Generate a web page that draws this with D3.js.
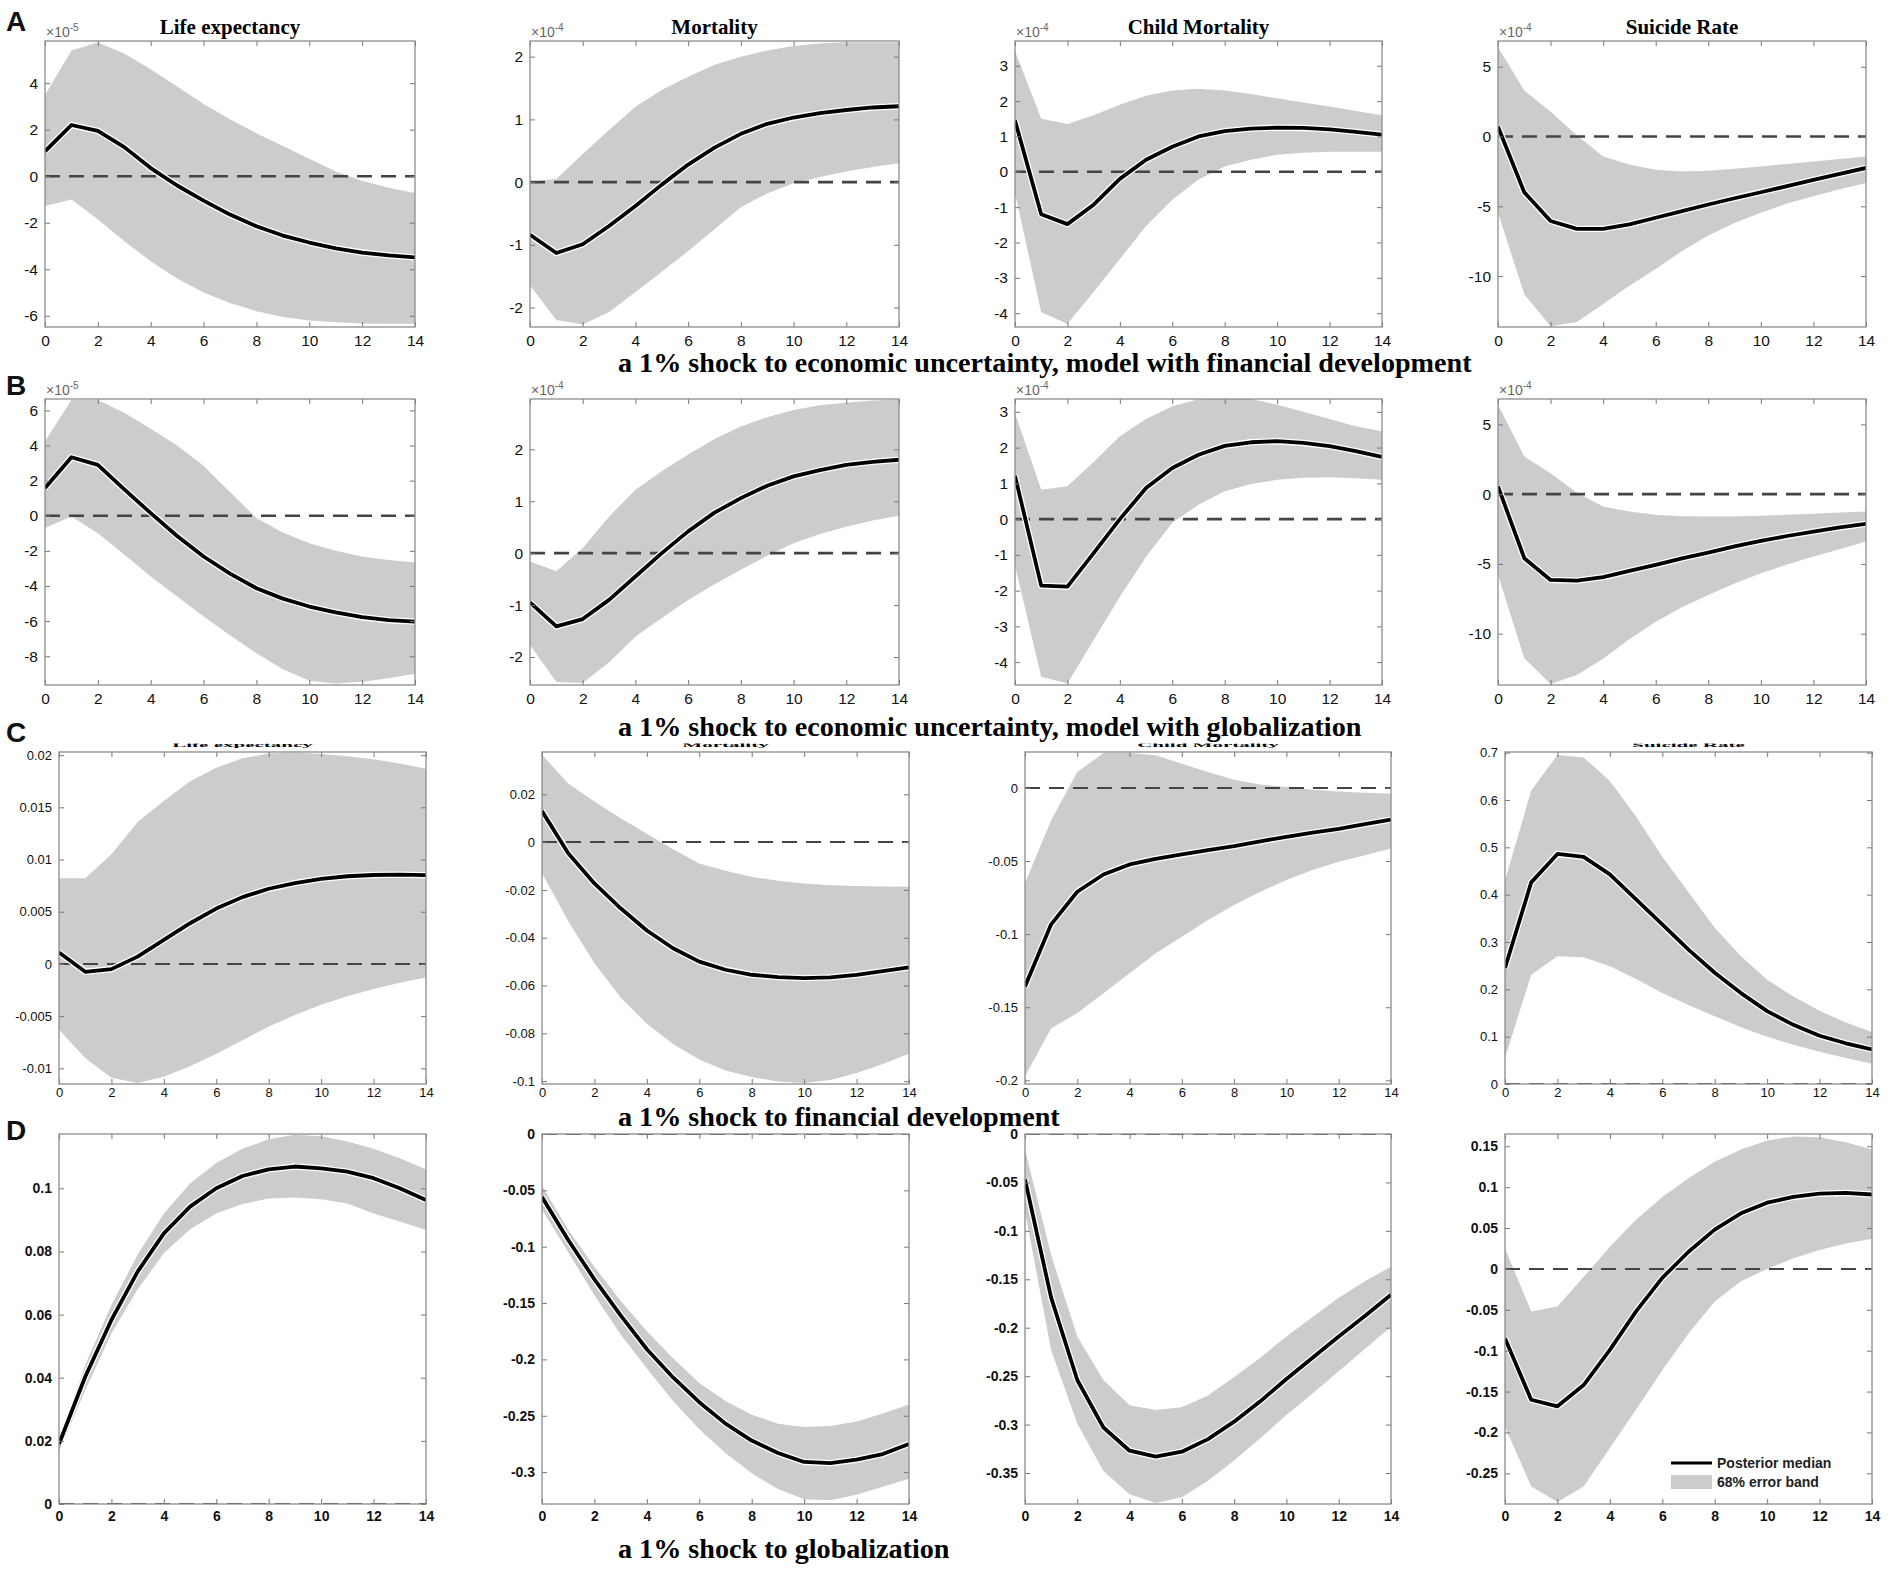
<!DOCTYPE html>
<html>
<head>
<meta charset="utf-8">
<script src="https://cdn.jsdelivr.net/npm/d3@7"></script>
<style>
  body { margin: 0; background: #fff; }
  text { font-family: "Liberation Sans", Arial, sans-serif; }
  .serif { font-family: "Liberation Serif", "Times New Roman", serif; font-weight: bold; }
</style>
</head>
<body>
<script>

// ---- data ----
var horizon = [0,1,2,3,4,5,6,7,8,9,10,11,12,13,14];
var xTicks = [0,2,4,6,8,10,12,14];
var titles = ["Life expectancy", "Mortality", "Child Mortality", "Suicide Rate"];
var rowLetters = ["A", "B", "C", "D"];
var captions = [
  "a 1% shock to economic uncertainty, model with financial development",
  "a 1% shock to economic uncertainty, model with globalization",
  "a 1% shock to financial development",
  "a 1% shock to globalization"
];
var multipliers = [["-5","-4","-4","-4"], ["-5","-4","-4","-4"], null, null];

// row A (units of the x10^ label)
var A_life_med = [1.07, 2.2, 1.95, 1.25, 0.35, -0.4, -1.05, -1.65, -2.15, -2.55, -2.85, -3.1, -3.28, -3.4, -3.49];
var A_life_hi  = [3.49, 5.4, 5.75, 5.27, 4.6, 3.85, 3.1, 2.45, 1.85, 1.3, 0.75, 0.2, -0.2, -0.5, -0.72];
var A_life_lo  = [-1.28, -1.0, -1.85, -2.8, -3.65, -4.4, -5.0, -5.45, -5.8, -6.05, -6.2, -6.28, -6.33, -6.34, -6.34];
var A_mort_med = [-0.84, -1.13, -0.99, -0.7, -0.38, -0.04, 0.28, 0.55, 0.77, 0.93, 1.03, 1.1, 1.15, 1.19, 1.21];
var A_mort_hi  = [0.0, 0.05, 0.45, 0.83, 1.2, 1.47, 1.68, 1.87, 2.0, 2.1, 2.17, 2.21, 2.23, 2.23, 2.23];
var A_mort_lo  = [-1.65, -2.2, -2.27, -2.07, -1.75, -1.43, -1.1, -0.75, -0.4, -0.18, -0.02, 0.08, 0.17, 0.24, 0.3];
var A_child_med = [1.45, -1.2, -1.48, -0.93, -0.2, 0.34, 0.71, 1.0, 1.15, 1.22, 1.25, 1.24, 1.2, 1.13, 1.05];
var A_child_hi  = [3.42, 1.5, 1.35, 1.6, 1.9, 2.15, 2.3, 2.35, 2.3, 2.2, 2.08, 1.96, 1.85, 1.72, 1.6];
var A_child_lo  = [-0.6, -3.97, -4.3, -3.4, -2.47, -1.53, -0.79, -0.22, 0.15, 0.34, 0.48, 0.54, 0.57, 0.57, 0.57];
var A_suic_med = [0.7, -4.0, -6.05, -6.62, -6.62, -6.3, -5.82, -5.35, -4.87, -4.42, -3.99, -3.55, -3.1, -2.67, -2.25];
var A_suic_hi  = [6.4, 3.3, 1.78, 0.1, -1.43, -2.0, -2.38, -2.5, -2.45, -2.3, -2.14, -1.96, -1.78, -1.6, -1.43];
var A_suic_lo  = [-5.46, -11.3, -13.6, -13.3, -12.0, -10.7, -9.5, -8.2, -7.1, -6.2, -5.46, -4.8, -4.27, -3.78, -3.33];

// row B
var B_life_med = [1.58, 3.33, 2.9, 1.5, 0.15, -1.15, -2.32, -3.3, -4.13, -4.72, -5.17, -5.5, -5.78, -5.95, -6.03];
var B_life_hi  = [4.24, 6.6, 6.6, 5.86, 4.96, 4.0, 2.85, 1.35, -0.13, -0.95, -1.56, -2.0, -2.32, -2.52, -2.66];
var B_life_lo  = [-0.7, -0.04, -0.99, -2.2, -3.46, -4.6, -5.74, -6.8, -7.83, -8.75, -9.4, -9.55, -9.45, -9.25, -9.0];
var B_mort_med = [-0.95, -1.41, -1.27, -0.9, -0.45, 0.0, 0.42, 0.78, 1.06, 1.3, 1.48, 1.6, 1.7, 1.76, 1.8];
var B_mort_hi  = [-0.16, -0.35, 0.1, 0.7, 1.22, 1.58, 1.9, 2.2, 2.44, 2.62, 2.76, 2.85, 2.9, 2.94, 2.96];
var B_mort_lo  = [-1.77, -2.48, -2.5, -2.1, -1.61, -1.25, -0.9, -0.6, -0.32, -0.05, 0.19, 0.37, 0.51, 0.63, 0.72];
var B_child_med = [1.21, -1.86, -1.89, -0.95, 0.0, 0.87, 1.43, 1.8, 2.05, 2.15, 2.18, 2.13, 2.04, 1.9, 1.74];
var B_child_hi  = [2.97, 0.82, 0.92, 1.6, 2.32, 2.8, 3.16, 3.35, 3.36, 3.36, 3.2, 3.0, 2.8, 2.6, 2.46];
var B_child_lo  = [-1.3, -4.41, -4.6, -3.38, -2.17, -1.05, -0.1, 0.4, 0.78, 0.98, 1.1, 1.16, 1.17, 1.14, 1.1];
var B_suic_med = [0.55, -4.59, -6.15, -6.2, -5.95, -5.5, -5.07, -4.6, -4.19, -3.75, -3.35, -3.0, -2.68, -2.38, -2.13];
var B_suic_hi  = [6.41, 2.7, 1.5, 0.1, -0.89, -1.25, -1.48, -1.58, -1.6, -1.6, -1.55, -1.48, -1.4, -1.32, -1.24];
var B_suic_lo  = [-5.79, -11.77, -13.6, -12.97, -11.8, -10.4, -9.14, -8.1, -7.22, -6.4, -5.67, -5.05, -4.47, -3.95, -3.4];

// row C
var C_life_med = [0.0011, -0.00075, -0.0005, 0.0007, 0.0023, 0.0039, 0.0053, 0.0064, 0.0072, 0.00775, 0.00815, 0.0084, 0.00852, 0.00855, 0.0085];
var C_life_hi  = [0.0082, 0.0082, 0.0105, 0.0136, 0.0156, 0.0175, 0.0188, 0.0197, 0.02015, 0.02025, 0.0201, 0.0199, 0.0196, 0.0192, 0.0187];
var C_life_lo  = [-0.0063, -0.009, -0.0109, -0.0114, -0.0108, -0.0098, -0.0086, -0.0073, -0.006, -0.0049, -0.0039, -0.0031, -0.0024, -0.0018, -0.0013];
var C_mort_med = [0.013, -0.0047, -0.0173, -0.0277, -0.037, -0.0444, -0.05, -0.0534, -0.0555, -0.0565, -0.0569, -0.0566, -0.0555, -0.054, -0.0524];
var C_mort_hi  = [0.0365, 0.0245, 0.017, 0.01, 0.0035, -0.003, -0.0089, -0.012, -0.0145, -0.0162, -0.0173, -0.018, -0.0184, -0.0186, -0.0187];
var C_mort_lo  = [-0.013, -0.033, -0.0507, -0.065, -0.076, -0.0845, -0.091, -0.0955, -0.0983, -0.1002, -0.1008, -0.0995, -0.0966, -0.0928, -0.0885];
var C_child_med = [-0.1358, -0.0933, -0.071, -0.0592, -0.0523, -0.0485, -0.0455, -0.0425, -0.0398, -0.0365, -0.0334, -0.0305, -0.028, -0.0248, -0.0216];
var C_child_hi  = [-0.065, -0.022, 0.0109, 0.024, 0.024, 0.0223, 0.0166, 0.0109, 0.0057, 0.0023, 0.0007, -0.0012, -0.0024, -0.0032, -0.0039];
var C_child_lo  = [-0.1973, -0.1643, -0.154, -0.1404, -0.1268, -0.1131, -0.1017, -0.0903, -0.08, -0.071, -0.063, -0.0562, -0.0505, -0.046, -0.0414];
var C_suic_med = [0.245, 0.426, 0.486, 0.48, 0.443, 0.39, 0.337, 0.284, 0.235, 0.192, 0.154, 0.125, 0.102, 0.086, 0.073];
var C_suic_hi  = [0.43, 0.62, 0.695, 0.69, 0.64, 0.565, 0.48, 0.405, 0.33, 0.27, 0.22, 0.185, 0.155, 0.13, 0.11];
var C_suic_lo  = [0.055, 0.231, 0.27, 0.268, 0.249, 0.222, 0.192, 0.167, 0.143, 0.12, 0.1, 0.083, 0.068, 0.055, 0.043];

// row D
var D_life_med = [0.019, 0.0403, 0.0583, 0.0736, 0.0857, 0.0942, 0.1, 0.1039, 0.106, 0.1069, 0.1063, 0.1053, 0.1032, 0.1, 0.0963];
var D_life_hi  = [0.0205, 0.044, 0.063, 0.079, 0.092, 0.1015, 0.108, 0.1125, 0.1155, 0.117, 0.1165, 0.1148, 0.1125, 0.1095, 0.106];
var D_life_lo  = [0.0166, 0.036, 0.054, 0.068, 0.0794, 0.087, 0.092, 0.095, 0.0968, 0.0971, 0.0965, 0.0952, 0.092, 0.0895, 0.0868];
var D_mort_med = [-0.056, -0.094, -0.129, -0.161, -0.191, -0.216, -0.238, -0.257, -0.272, -0.283, -0.291, -0.292, -0.289, -0.284, -0.275];
var D_mort_hi  = [-0.046, -0.085, -0.118, -0.148, -0.175, -0.199, -0.221, -0.237, -0.249, -0.257, -0.26, -0.259, -0.255, -0.248, -0.24];
var D_mort_lo  = [-0.067, -0.105, -0.143, -0.178, -0.208, -0.237, -0.262, -0.283, -0.301, -0.315, -0.324, -0.325, -0.32, -0.313, -0.306];
var D_child_med = [-0.047, -0.169, -0.254, -0.303, -0.327, -0.333, -0.328, -0.315, -0.297, -0.276, -0.253, -0.231, -0.209, -0.188, -0.166];
var D_child_hi  = [-0.016, -0.125, -0.209, -0.254, -0.28, -0.285, -0.282, -0.27, -0.251, -0.231, -0.209, -0.189, -0.169, -0.152, -0.137];
var D_child_lo  = [-0.08, -0.223, -0.299, -0.348, -0.372, -0.381, -0.375, -0.358, -0.337, -0.314, -0.29, -0.268, -0.245, -0.222, -0.199];
var D_suic_med = [-0.085, -0.16, -0.168, -0.142, -0.099, -0.052, -0.011, 0.021, 0.048, 0.068, 0.081, 0.088, 0.092, 0.093, 0.091];
var D_suic_hi  = [0.025, -0.052, -0.046, -0.01, 0.027, 0.06, 0.088, 0.111, 0.131, 0.146, 0.157, 0.162, 0.161, 0.155, 0.146];
var D_suic_lo  = [-0.193, -0.266, -0.285, -0.266, -0.219, -0.172, -0.124, -0.079, -0.04, -0.015, 0.0, 0.013, 0.023, 0.031, 0.037];

// axis limits and y ticks of each panel (row by row, column by column)
var yDomains = [
  [[-6.48, 5.81], [-2.31, 2.25], [-4.39, 3.7], [-13.65, 6.85]],
  [[-9.64, 6.65], [-2.54, 2.97], [-4.64, 3.36], [-13.68, 6.82]],
  [[-0.0115, 0.0203], [-0.1012, 0.0377], [-0.2025, 0.0246], [0, 0.7014]],
  [[0, 0.1172], [-0.3283, 0], [-0.382, 0], [-0.2875, 0.165]]
];
var yTicks = [
  [[-6,-4,-2,0,2,4], [-2,-1,0,1,2], [-4,-3,-2,-1,0,1,2,3], [-10,-5,0,5]],
  [[-8,-6,-4,-2,0,2,4,6], [-2,-1,0,1,2], [-4,-3,-2,-1,0,1,2,3], [-10,-5,0,5]],
  [[-0.01,-0.005,0,0.005,0.01,0.015,0.02], [-0.1,-0.08,-0.06,-0.04,-0.02,0,0.02], [-0.2,-0.15,-0.1,-0.05,0], [0,0.1,0.2,0.3,0.4,0.5,0.6,0.7]],
  [[0,0.02,0.04,0.06,0.08,0.1], [-0.3,-0.25,-0.2,-0.15,-0.1,-0.05,0], [-0.35,-0.3,-0.25,-0.2,-0.15,-0.1,-0.05,0], [-0.25,-0.2,-0.15,-0.1,-0.05,0,0.05,0.1,0.15]]
];
var series = [
  [[A_life_med, A_life_lo, A_life_hi], [A_mort_med, A_mort_lo, A_mort_hi], [A_child_med, A_child_lo, A_child_hi], [A_suic_med, A_suic_lo, A_suic_hi]],
  [[B_life_med, B_life_lo, B_life_hi], [B_mort_med, B_mort_lo, B_mort_hi], [B_child_med, B_child_lo, B_child_hi], [B_suic_med, B_suic_lo, B_suic_hi]],
  [[C_life_med, C_life_lo, C_life_hi], [C_mort_med, C_mort_lo, C_mort_hi], [C_child_med, C_child_lo, C_child_hi], [C_suic_med, C_suic_lo, C_suic_hi]],
  [[D_life_med, D_life_lo, D_life_hi], [D_mort_med, D_mort_lo, D_mort_hi], [D_child_med, D_child_lo, D_child_hi], [D_suic_med, D_suic_lo, D_suic_hi]]
];

// ---- layout ----
var W = 1902, H = 1579;
var colsAB = [[45,415],[530,899],[1015,1382],[1498,1866]],
    colsCD = [[59,426],[542,909],[1025,1391],[1505,1872]];
var rows = [
  {top: 41,   bottom: 327,  cols: colsAB, fs: 15.5, fw: "normal", xlab: 20, letterY: 31,   capY: 372},
  {top: 399,  bottom: 685,  cols: colsAB, fs: 15.5, fw: "normal", xlab: 20, letterY: 395,  capY: 736},
  {top: 752,  bottom: 1084, cols: colsCD, fs: 13,   fw: "normal", xlab: 16, letterY: 742,  capY: 1126},
  {top: 1134, bottom: 1504, cols: colsCD, fs: 14,   fw: "bold",   xlab: 19, letterY: 1140, capY: 1558}
];
var bandColor = "#cccccc";

var svg = d3.select("body").append("svg")
    .attr("width", W)
    .attr("height", H);

function fmt(v) { return String(+v.toFixed(6)); }

function styleAxis(sel, row) {
  sel.select(".domain").remove();
  sel.selectAll(".tick line").attr("stroke", "#777").attr("stroke-width", 1);
  sel.selectAll(".tick text")
      .attr("fill", "#111")
      .attr("font-size", row.fs)
      .attr("font-weight", row.fw)
      .style("font-family", "'Liberation Sans', Arial, sans-serif");
}

function drawPanel(r, c) {
  var row = rows[r],
      box = row.cols[c],
      s = series[r][c];
  var x = d3.scaleLinear().domain([0, 14]).range([box[0], box[1]]);
  var y = d3.scaleLinear().domain(yDomains[r][c]).range([row.bottom, row.top]);
  var id = "clip" + r + c;

  svg.append("clipPath").attr("id", id)
    .append("rect")
      .attr("x", box[0]).attr("y", row.top)
      .attr("width", box[1] - box[0]).attr("height", row.bottom - row.top);

  var g = svg.append("g").attr("clip-path", "url(#" + id + ")");

  var area = d3.area()
      .x(function(d, i) { return x(horizon[i]); })
      .y0(function(d, i) { return y(s[1][i]); })
      .y1(function(d, i) { return y(s[2][i]); });
  g.append("path").datum(horizon)
      .attr("d", area)
      .attr("fill", bandColor);

  // zero line
  g.append("line")
      .attr("x1", box[0]).attr("x2", box[1])
      .attr("y1", y(0)).attr("y2", y(0))
      .attr("stroke", "#444")
      .attr("stroke-width", r < 2 ? 2.6 : 2)
      .attr("stroke-dasharray", "15,9");

  var line = d3.line()
      .x(function(d, i) { return x(horizon[i]); })
      .y(function(d) { return y(d); });
  g.append("path").datum(s[0])
      .attr("d", line).attr("fill", "none")
      .attr("stroke", "#fff").attr("stroke-width", 6.4)
      .attr("stroke-linejoin", "round");
  g.append("path").datum(s[0])
      .attr("d", line).attr("fill", "none")
      .attr("stroke", "#000").attr("stroke-width", 3.8)
      .attr("stroke-linejoin", "round");

  // axes: MATLAB style box with inward ticks on all sides
  var tl = 5;
  svg.append("g")
      .attr("transform", "translate(0," + row.bottom + ")")
      .call(d3.axisBottom(x).tickValues(xTicks).tickSize(-tl).tickPadding(row.xlab - 12).tickFormat(d3.format("d")))
      .call(styleAxis, row);
  svg.append("g")
      .attr("transform", "translate(0," + row.top + ")")
      .call(d3.axisTop(x).tickValues(xTicks).tickSize(-tl).tickFormat(""))
      .call(styleAxis, row);
  svg.append("g")
      .attr("transform", "translate(" + box[0] + ",0)")
      .call(d3.axisLeft(y).tickValues(yTicks[r][c]).tickSize(-tl).tickPadding(7).tickFormat(fmt))
      .call(styleAxis, row);
  svg.append("g")
      .attr("transform", "translate(" + box[1] + ",0)")
      .call(d3.axisRight(y).tickValues(yTicks[r][c]).tickSize(-tl).tickFormat(""))
      .call(styleAxis, row);

  svg.append("rect")
      .attr("x", box[0]).attr("y", row.top)
      .attr("width", box[1] - box[0]).attr("height", row.bottom - row.top)
      .attr("fill", "none").attr("stroke", "#8c8c8c").attr("stroke-width", 1.3);

  // x10^n label
  if (multipliers[r]) {
    var m = svg.append("text")
        .attr("x", box[0] + 1).attr("y", row.top - 4)
        .attr("font-size", 14).attr("fill", "#666");
    m.append("tspan").text("\u00d710");
    m.append("tspan").attr("font-size", 10).attr("dy", -6).text(multipliers[r][c]);
  }
}

for (var r = 0; r < 4; r++) {
  for (var c = 0; c < 4; c++) drawPanel(r, c);
}

// panel titles: full in row A; row C only shows the cut-off bottom sliver of its titles
var titleRows = [
  {row: 0, base: 34,  squash: 1,   clipTop: 0,     clipBottom: 41},
  {row: 2, base: 747, squash: 0.3, clipTop: 743.5, clipBottom: 750}
];
titleRows.forEach(function(t, k) {
  var id = "tclip" + k;
  svg.append("clipPath").attr("id", id)
    .append("rect").attr("x", 0).attr("y", t.clipTop)
      .attr("width", W).attr("height", t.clipBottom - t.clipTop);
  var g = svg.append("g").attr("clip-path", "url(#" + id + ")");
  rows[t.row].cols.forEach(function(box, c) {
    g.append("text")
        .attr("class", "serif")
        .attr("transform", "translate(" + ((box[0] + box[1]) / 2) + "," + t.base + ") scale(1," + t.squash + ")")
        .attr("text-anchor", "middle")
        .attr("font-size", 21)
        .text(titles[c]);
  });
});

// row letters
rows.forEach(function(row, r) {
  svg.append("text")
      .attr("x", 6).attr("y", row.letterY)
      .attr("font-size", 28)
      .attr("font-weight", "bold")
      .attr("fill", "#111")
      .text(rowLetters[r]);
});

// shock captions, sized so the first one spans the same width as in the figure
var caps = rows.map(function(row, r) {
  return svg.append("text")
      .attr("class", "serif")
      .attr("x", 618).attr("y", row.capY)
      .attr("font-size", 24)
      .text(captions[r]);
});
var capScale = 854 / caps[0].node().getComputedTextLength();
caps.forEach(function(t) { t.attr("font-size", 24 * capScale); });

// legend inside the last panel
var leg = svg.append("g").attr("font-size", 14).attr("font-weight", "bold").attr("fill", "#222");
leg.append("line")
    .attr("x1", 1671).attr("x2", 1712).attr("y1", 1463).attr("y2", 1463)
    .attr("stroke", "#000").attr("stroke-width", 3);
leg.append("text").attr("x", 1717).attr("y", 1463).attr("dy", "0.35em").text("Posterior median");
leg.append("rect")
    .attr("x", 1671).attr("y", 1475).attr("width", 41).attr("height", 14)
    .attr("fill", bandColor);
leg.append("text").attr("x", 1717).attr("y", 1482).attr("dy", "0.35em").text("68% error band");

</script>
</body>
</html>
